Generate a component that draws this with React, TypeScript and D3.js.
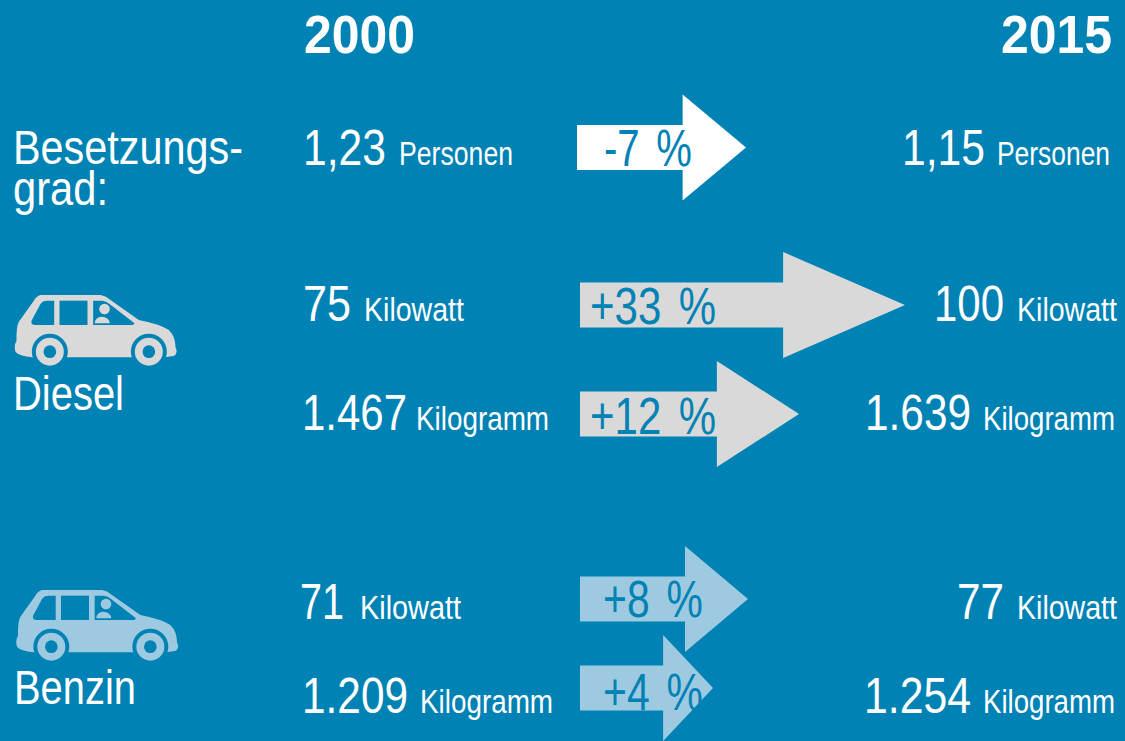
import React, { useEffect, useRef } from "react";
import * as d3 from "d3";

const years = ["2000", "2015"];
const rows = ["besetzung", "dieselKw", "dieselKg", "benzinKw", "benzinKg"];
const units = ["Personen", "Kilowatt", "Kilogramm", "Kilowatt", "Kilogramm"];
const values2000 = ["1,23", "75", "1.467", "71", "1.209"];
const values2015 = ["1,15", "100", "1.639", "77", "1.254"];
const changes = [-7, 33, 12, 8, 4];

const width = 1125;
const height = 741;
const BG = "#0082b4";
const GREY = "#d9d9d9";
const LIGHT = "#9ecae1";
const FONT = "'Liberation Sans Narrow', 'Liberation Sans', sans-serif";

// baselines of the text rows and centre lines of the arrows
const baseline = d3.scaleOrdinal<string, number>().domain(rows).range([165, 320.5, 430, 619, 713]);
const arrowY = d3.scaleOrdinal<string, number>().domain(rows).range([147.5, 305, 414, 599, 688]);
const pctBaseline = d3.scaleOrdinal<string, number>().domain(rows).range([166, 323.5, 434, 617, 710]);
const arrowStart = d3.scaleOrdinal<string, number>().domain(rows).range([577, 580, 580, 580, 580]);
const arrowFill = d3.scaleOrdinal<string, string>().domain(rows).range(["#ffffff", GREY, GREY, LIGHT, LIGHT]);
// arrow length is not really proportional in the original
const arrowLen = d3.scaleLinear().domain([-7, 4, 8, 12, 33]).range([169, 133, 168, 219, 325]);

// [x of number, width of number, x of unit, width of unit]
const left = [
  [303, 83, 399, 114],
  [303, 48, 364, 100],
  [302, 105, 416, 133],
  [300, 44, 360, 101],
  [302, 106, 420, 133],
];
const right = [
  [902, 83, 997, 113],
  [934, 70, 1017, 100],
  [865, 106, 983, 132],
  [957, 47, 1017, 100],
  [864, 107, 983, 132],
];
const pctPos = [
  [604, 88],
  [590, 126],
  [590, 126],
  [603, 100],
  [603, 100],
];

const carBody =
  "M120 75 L300 75 Q315 77 330 90 L415 150 Q480 163 505 180 Q525 200 525 232 Q534 250 520 258 L490 262 L95 262 Q55 258 45 245 Q39 228 48 213 Q47 170 55 155 L100 92 Q108 78 120 75 Z";
const carWindows = [
  "M105 165 Q90 165 93 152 L120 102 Q126 92 140 92 L161 92 L161 165 Z",
  "M177 92 L261 92 L261 165 L177 165 Z",
  "M278 92 L306 92 Q318 94 330 104 L402 160 L398 165 L278 165 Z",
];
const carPerson = "M283 160 Q285 140 303 140 Q325 140 328 160 Z";

function drawCar(svg: any, dx: number, dy: number, color: string) {
  const g = svg.append("g").attr("transform", `translate(${dx},${dy}) scale(${1 / 3})`);
  g.append("path").attr("d", carBody).attr("fill", color);
  carWindows.forEach((d) => g.append("path").attr("d", d).attr("fill", BG));
  g.append("circle").attr("cx", 312).attr("cy", 117).attr("r", 16).attr("fill", color);
  g.append("path").attr("d", carPerson).attr("fill", color);
  [148, 445].forEach((cx) => {
    g.append("circle").attr("cx", cx).attr("cy", 245).attr("r", 54).attr("fill", BG);
    g.append("circle").attr("cx", cx).attr("cy", 245).attr("r", 42).attr("fill", color);
    g.append("circle").attr("cx", cx).attr("cy", 245).attr("r", 19).attr("fill", BG);
  });
}

function fitText(svg: any, s: string, x: number, y: number, w: number, size: number, fill = "#ffffff", weight = "normal") {
  return svg.append("text")
    .attr("x", x)
    .attr("y", y)
    .attr("textLength", w)
    .attr("lengthAdjust", "spacingAndGlyphs")
    .attr("font-family", FONT)
    .attr("font-size", size)
    .attr("font-weight", weight)
    .attr("fill", fill)
    .text(s);
}

export default function App() {
  const ref = useRef<SVGSVGElement>(null);

  useEffect(() => {
    const svg = d3.select(ref.current);
    svg.selectAll("*").remove();

    svg.append("rect").attr("width", width).attr("height", height).attr("fill", BG);

    // year headers
    fitText(svg, years[0], 304, 53, 111, 54, "#ffffff", "bold");
    fitText(svg, years[1], 1001, 53, 111, 54, "#ffffff", "bold");

    // row labels on the left
    fitText(svg, "Besetzungs-", 13, 164, 230, 49);
    fitText(svg, "grad:", 13, 205, 95, 49);
    fitText(svg, "Diesel", 13, 410, 111, 49);
    fitText(svg, "Benzin", 14, 704, 122, 49);

    drawCar(svg, 0.5, 270, GREY);
    drawCar(svg, 2, 565, LIGHT);

    rows.forEach((row, i) => {
      const y = baseline(row);
      const [nx, nw, ux, uw] = left[i];
      fitText(svg, values2000[i], nx, y, nw, 50);
      fitText(svg, units[i], ux, y, uw, 33);
      const [rx, rw, rux, ruw] = right[i];
      fitText(svg, values2015[i], rx, y, rw, 50);
      fitText(svg, units[i], rux, y, ruw, 33);

      // arrow: head is always 3/8 of the length
      const len = arrowLen(changes[i]);
      const x0 = arrowStart(row);
      const cy = arrowY(row);
      const tip = x0 + len;
      const neck = tip - len * 0.375;
      const arrow = d3.line()([
        [x0, cy - 22.5],
        [neck, cy - 22.5],
        [neck, cy - 53],
        [tip, cy],
        [neck, cy + 53],
        [neck, cy + 22.5],
        [x0, cy + 22.5],
      ]);
      svg.append("path").attr("d", arrow + "Z").attr("fill", arrowFill(row));

      const label = (changes[i] > 0 ? "+" : "-") + Math.abs(changes[i]) + " %";
      fitText(svg, label, pctPos[i][0], pctBaseline(row), pctPos[i][1], 51, BG).attr("word-spacing", 7);
    });
  }, []);

  return <svg ref={ref} width={width} height={height} style={{ position: "fixed", left: 0, top: 0 }} />;
}
